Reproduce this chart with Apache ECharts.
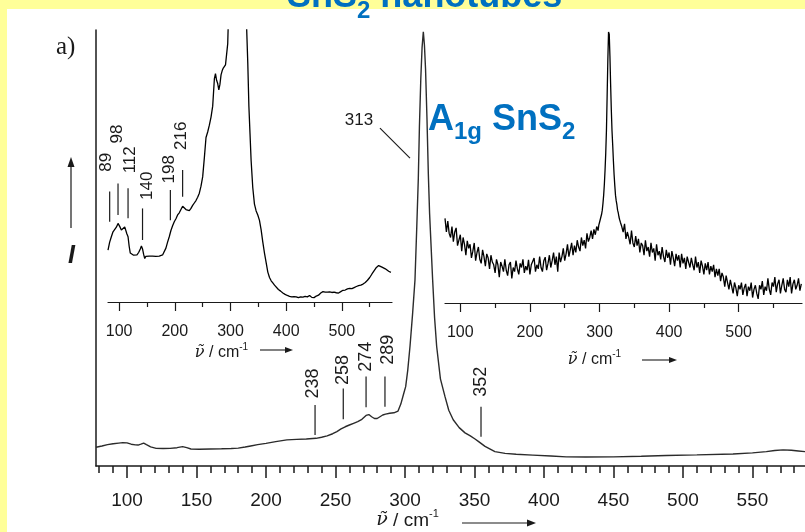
<!DOCTYPE html>
<html>
<head>
<meta charset="utf-8">
<script src="https://cdn.jsdelivr.net/npm/echarts@6.0.0/dist/echarts.min.js"></script>
<style>
html,body{margin:0;padding:0;background:#FFFF99;}
#chart{width:805px;height:532px;}
</style>
</head>
<body>
<div id="chart"></div>
<script>
// ---------- DATA ----------
// Main Raman spectrum (wavenumber cm-1, intensity a.u., peak = 100)
const mainSpectrum = [
  [77.7,4.3],[82,4.6],[86,4.9],[90,5.1],[94,5.25],[97,5.35],[100,5.3],[103,5.0],[106,4.85],[108,4.8],
  [110,5.0],[112,5.25],[114,4.9],[117,4.4],[121,4.05],[126,4.0],[131,4.05],[136,4.2],[140,4.45],[143,4.2],
  [146,3.9],[152,3.85],[160,3.9],[168,3.95],[175,4.0],[180,4.1],[185,4.35],[189,4.6],[194,4.9],[200,5.2],
  [207,5.6],[215,6.0],[222,6.1],[229,6.2],[236,6.35],[240,6.6],[244,6.9],[248,7.4],[251,7.9],[254,8.5],
  [257,9.0],[260,9.4],[263,9.8],[266,10.2],[269,10.7],[272,11.6],[274,11.8],[276,11.3],[278,10.9],[280,10.9],
  [282,11.3],[284,11.7],[286,11.9],[289,12.1],[292,12.2],[295,12.6],[297,14.2],[299,16.5],[300.5,18.2],[302,22],
  [303.6,27.4],[305.5,35],[307.2,42.7],[308.5,55],[309.6,66],[310.4,78],[311.4,89],[312.3,96],[313.2,99.6],[314.0,96.5],
  [314.8,91],[315.8,80],[316.8,67],[317.7,58],[319.9,42.7],[321.3,34],[322.8,27.4],[325.5,20],[328.8,15.9],[331.5,12.8],
  [334.7,10.6],[339,8.8],[343.2,7.6],[347,6.9],[350.4,6.2],[353,5.6],[357.6,4.5],[364.7,3.3],[372,2.9],[380,2.7],
  [392,2.5],[405,2.3],[416,2.1],[430,2.05],[450,2.1],[470,2.25],[488,2.4],[510,2.55],[536,2.75],[550,3.0],
  [560,3.3],[566,3.55],[572,3.7],[578,3.6],[583,3.45],[587.8,3.3]
];

// Left inset: zoomed-in spectrum (peak clipped)
const insetASpectrum = [
  [80,19.1],[83,22],[86,24],[89,25.8],[92,26.5],[95,27.5],[98,28.9],[101,27.8],[104,26.5],[107,27.2],
  [110,27.6],[112,27.2],[114,25],[116,24],[118,20.5],[120,18],[123,17.5],[126,17.2],[129,17.6],[132,17.3],
  [135,18.2],[138,19.5],[140,20.6],[142,19.5],[144,17.5],[146,16],[148,16.8],[151,16.2],[154,16.9],[157,16.4],
  [160,16.9],[163,16.3],[166,16.8],[169,16.4],[172,16.9],[175,16.6],[178,17.3],[181,18],[184,19.8],[187,22],
  [190,24],[193,26.3],[196,28],[199,29.5],[202,30.6],[205,32],[208,32.8],[211,34],[214,35.2],[217,34.5],
  [220,34],[223,34.6],[226,33.6],[229,34.4],[232,35.5],[235,36.4],[238,37.3],[241,38.5],[244,40],[247,42.6],
  [250,46],[253,53],[256,60.5],[259,62.5],[262,65],[265,68],[268,72],[271,82],[273,84],[275,81.5],
  [277,80.3],[279,78],[281,80],[283,83.5],[285,85],[287,86],[289,85.5],[291,87.2],[293,87.8],[295,95],
  [297,110],[300,160],[305,320],[310,700],[313,1000],[316,700],[320,350],[325,180],[328,110],[329,100.5],
  [331,88],[333,72],[335,62],[337,52],[340,42],[343,36],[346,33.5],[349,32],[352,30],[355,26.5],
  [358,22],[361,18],[364,14.5],[367,11],[370,9],[373,7.8],[376,7],[379,6.2],[382,5.6],[386,4.6],
  [390,4],[394,3.3],[398,2.8],[402,2.4],[406,2.1],[410,1.9],[414,2],[418,1.9],[422,1.6],[426,1.9],
  [430,1.8],[434,2.1],[438,1.9],[442,2.4],[446,1.7],[450,1.6],[454,2.2],[458,2.5],[462,3.3],[466,3.8],
  [470,3.6],[474,3.6],[478,3.7],[482,3.5],[486,3.6],[490,3.4],[494,3.3],[498,3.8],[502,4.3],[506,4.4],
  [510,4.8],[514,5],[518,4.9],[522,5.3],[526,5.7],[530,6],[534,6.2],[538,6.6],[542,7.2],[546,8],
  [550,9],[554,10.3],[558,11.5],[562,12.7],[566,13.4],[569,13.2],[572,12.8],[575,12.4],[578,12.2],[581,11.8],
  [584,11.3],[588,10.9]
];

// Right inset: noisy spectrum
const insetBSpectrum = [
  [78,31],[80,26],[82,30],[84,25.5],[86,24],[88,28],[90,22.5],[92,26],[94,27.5],[96,21],
  [98,23],[100,25],[102,19],[104,24],[106,21.5],[108,17.5],[110,22.8],[112,20],[114,21.5],[116,16.5],
  [118,19],[120,22],[122,15.5],[124,18.5],[126,20.5],[128,16],[130,14.5],[132,19.5],[134,17],[136,13.5],
  [138,18],[140,16.5],[142,12.5],[144,17.5],[146,15],[148,14],[150,11],[152,16],[154,14],[156,9.5],
  [158,15],[160,13.5],[162,11.5],[164,16],[166,12],[168,10],[170,14],[172,15],[174,9],[176,13],
  [178,11.5],[180,15.5],[182,12.5],[184,10.5],[186,14.5],[188,13],[190,16],[192,11],[194,13.5],[196,12],
  [198,15.8],[200,10.5],[202,14],[204,13.5],[206,16.5],[208,11.5],[210,14],[212,12.5],[214,17],[216,13],
  [218,11.5],[220,15.5],[222,16.8],[224,12],[226,14.5],[228,17.5],[230,13],[232,15.5],[234,18.5],[236,14],
  [238,17],[240,11.5],[242,18.5],[244,15],[246,17],[248,20],[250,15.5],[252,18],[254,21.5],[256,17],
  [258,19.5],[260,22],[262,17.5],[264,21],[266,18.5],[268,23],[270,20.5],[272,19],[274,24],[276,21],
  [278,23],[280,20],[282,25.5],[284,22.5],[286,24],[288,26.5],[290,23.5],[292,27],[294,25],[296,28],
  [298,26.5],[299,28.5],[300,29.5],[301,30],[302,31.5],[303,32.5],[304,34],[305,36.5],[306,39.5],[307,43.5],
  [308,48.7],[309,55],[310,63.3],[311,76],[312,89],[313,99.3],[314,98.5],[315,90.5],[316,80],[317,70.7],
  [318,63],[319,57.8],[320,52],[321,47],[322,43],[323,39.5],[324,37.5],[325,36],[326,34],[327,33],
  [328,31.5],[329,30.5],[330,29.6],[332,28],[334,26],[336,29],[338,23.5],[340,26],[342,24],[344,21.5],
  [346,26.5],[348,22],[350,20.5],[352,24.5],[354,21],[356,23.5],[358,18.5],[360,22],[362,21],[364,17.5],
  [366,23],[368,19],[370,20.5],[372,17],[374,22],[376,18.5],[378,20],[380,15.5],[382,21.5],[384,17.5],
  [386,19],[388,16],[390,20.5],[392,17],[394,15],[396,19.5],[398,16.5],[400,18.5],[402,14],[404,19],
  [406,16.5],[408,13.5],[410,18],[412,15.5],[414,17.5],[416,13],[418,18],[420,14.5],[422,16.5],[424,12.5],
  [426,17],[428,15],[430,13],[432,16.5],[434,14],[436,12],[438,17],[440,13],[442,15],[444,11],
  [446,15.5],[448,13.5],[450,10.5],[452,14.5],[454,12],[456,15],[458,10.5],[460,13.5],[462,11.5],[464,14],
  [466,9.5],[468,12.5],[470,10],[472,12.5],[474,8],[476,11],[478,9.5],[480,6],[482,10],[484,7.5],
  [486,5],[488,8.5],[490,6],[492,3.5],[494,7.5],[496,5.5],[498,2.5],[500,6.5],[502,5],[504,7.5],
  [506,3],[508,5.5],[510,7],[512,2.5],[514,6],[516,4.5],[518,7.5],[520,2],[522,5],[524,6.5],
  [526,3.5],[528,1.5],[530,6.5],[532,5],[534,8],[536,3],[538,6],[540,4.5],[542,9],[544,5],
  [546,3],[548,7.5],[550,6],[552,9.5],[554,4],[556,7],[558,8.5],[560,3.5],[562,6.5],[564,9],
  [566,5],[568,4],[570,8.5],[572,6],[574,9.5],[576,3.5],[578,7],[580,8.5],[582,5],[584,6.5],
  [586,9],[588,4.5],[590,7]
];

// Tick values
const mainMajorTicks = [100,150,200,250,300,350,400,450,500,550];
const mainMinorTicks = [80,90,100,110,120,130,140,150,160,170,180,190,200,210,220,230,240,250,260,270,280,290,
  300,310,320,330,340,350,360,370,380,390,400,410,420,430,440,450,460,470,480,490,500,510,520,530,540,550,560,570,580];
const insetMajorTicks = [100,200,300,400,500];
const insetMinorTicks = [150,250,350,450,550];

// Peak annotations: [line x, line bottom, line top, label x, label bottom, text]
const mainPeakMarks = [
  [235.3, 7.1, 14.0, 234.0, 15.5, '238'],
  [255.6, 10.7, 17.8, 255.6, 18.6, '258'],
  [272.0, 13.5, 20.5, 272.0, 21.6, '274'],
  [285.6, 13.6, 20.5, 288.0, 23.2, '289'],
  [354.7, 6.7, 13.6, 355.0, 15.9, '352']
];
const insetAPeakMarks = [
  [83, 29.5, 40.6, 77.3, 47.9, '89'],
  [98, 32.0, 43.6, 96.4, 58.3, '98'],
  [116, 30.8, 41.8, 119.2, 47.3, '112'],
  [142, 22.8, 34.4, 150.4, 37.5, '140'],
  [192, 30.1, 41.2, 190.0, 43.6, '198'],
  [214, 38.7, 48.5, 212.0, 55.9, '216']
];
// Leader for main peak: [x1, y1, x2, y2, label x, label y, text]
const mainPeakLeader = [[282.0, 77.5, 303.6, 70.6, 266.9, 79.4, '313']];

// ---------- CHART ----------
const SANS = '"Liberation Sans", Arial, sans-serif';
const INK = '#1a1a1a';
const chart = echarts.init(document.getElementById('chart'), null, {renderer: 'canvas'});

function markRenderer(marks, fontSize) {
  return function (params, api) {
    const m = marks[params.dataIndex];
    const p1 = api.coord([m[0], m[1]]);
    const p2 = api.coord([m[0], m[2]]);
    const pt = api.coord([m[3], m[4]]);
    return {
      type: 'group',
      children: [
        {type: 'line', shape: {x1: p1[0], y1: p1[1], x2: p2[0], y2: p2[1]},
         style: {stroke: INK, lineWidth: 1.2}},
        {type: 'text', x: pt[0], y: pt[1], rotation: Math.PI / 2,
         style: {text: m[5], fontSize: fontSize, fontFamily: SANS, fill: INK,
                 align: 'left', verticalAlign: 'middle'}}
      ]
    };
  };
}
function leaderRenderer(params, api) {
  const m = mainPeakLeader[params.dataIndex];
  const p1 = api.coord([m[0], m[1]]);
  const p2 = api.coord([m[2], m[3]]);
  const pt = api.coord([m[4], m[5]]);
  return {
    type: 'group',
    children: [
      {type: 'line', shape: {x1: p1[0], y1: p1[1], x2: p2[0], y2: p2[1]},
       style: {stroke: INK, lineWidth: 1.2}},
      {type: 'text', x: pt[0], y: pt[1],
       style: {text: m[6], fontSize: 17, fontFamily: SANS, fill: INK,
               align: 'center', verticalAlign: 'middle'}}
    ]
  };
}

function axisName(size, supSize) {
  return {
    nu: {fontFamily: '"DejaVu Serif", serif', fontStyle: 'italic', fontSize: size, lineHeight: size + 6, color: INK},
    t: {fontFamily: SANS, fontSize: size, lineHeight: size + 6, color: INK},
    sup: {fontFamily: SANS, fontSize: supSize, lineHeight: supSize + 2, verticalAlign: 'top', color: INK}
  };
}
const NAME = '{nu|ν̃}{t| / cm}{sup|-1}';

function xPair(gridIndex, min, max, major, minor, majLen, minLen, labelSize, labelMargin, lineWidth, nameSize, supSize, nameGap, namePadRight) {
  return [
    {
      type: 'value', gridIndex: gridIndex, position: 'bottom', min: min, max: max,
      axisLine: {show: true, onZero: false, lineStyle: {color: INK, width: lineWidth}},
      axisTick: {show: true, inside: false, length: majLen, customValues: major, lineStyle: {color: INK, width: lineWidth}},
      axisLabel: {show: true, customValues: major, fontSize: labelSize, fontFamily: SANS, color: INK, margin: labelMargin},
      splitLine: {show: false},
      name: NAME, nameLocation: 'middle', nameGap: nameGap, nameMoveOverlap: false,
      nameTextStyle: {padding: [0, namePadRight, 0, 0], rich: axisName(nameSize, supSize)}
    },
    {
      type: 'value', gridIndex: gridIndex, position: 'bottom', min: min, max: max,
      axisLine: {show: false, onZero: false},
      axisTick: {show: true, inside: false, length: minLen, customValues: minor, lineStyle: {color: INK, width: lineWidth}},
      axisLabel: {show: false},
      splitLine: {show: false}
    }
  ];
}

const xAxes = []
  .concat(xPair(0, 77.7, 587.8, mainMajorTicks, mainMinorTicks, 12, 7, 19, 25, 1.5, 19, 11, 42, 86))
  .concat(xPair(1, 80, 590, insetMajorTicks, insetMinorTicks, 9, 5, 16, 22, 1.2, 16, 10, 40, 57))
  .concat(xPair(2, 78, 591, insetMajorTicks, insetMinorTicks, 9, 5, 16, 22, 1.2, 16, 10, 46, 58));

const option = {
  animation: false,
  backgroundColor: '#FFFF99',
  grid: [
    {left: 96, right: 0, top: 30, bottom: 66, outerBoundsMode: 'none', containLabel: false},
    {left: 108, right: 413, top: 30, bottom: 230, outerBoundsMode: 'none', containLabel: false},
    {left: 445, right: 3, top: 30, bottom: 229, outerBoundsMode: 'none', containLabel: false}
  ],
  xAxis: xAxes,
  yAxis: [
    {type: 'value', gridIndex: 0, min: 0, max: 100,
     axisLine: {show: true, onZero: false, lineStyle: {color: INK, width: 1.5}},
     axisTick: {show: false}, axisLabel: {show: false}, splitLine: {show: false}},
    {type: 'value', gridIndex: 1, min: 0, max: 100, show: false, splitLine: {show: false}},
    {type: 'value', gridIndex: 2, min: 0, max: 100, show: false, splitLine: {show: false}}
  ],
  series: [
    {type: 'line', xAxisIndex: 0, yAxisIndex: 0, data: mainSpectrum, showSymbol: false,
     lineStyle: {color: '#2b2b2b', width: 1.4}, clip: true, z: 3},
    {type: 'line', xAxisIndex: 2, yAxisIndex: 1, data: insetASpectrum, showSymbol: false,
     lineStyle: {color: '#000', width: 1.3}, clip: true, z: 3},
    {type: 'line', xAxisIndex: 4, yAxisIndex: 2, data: insetBSpectrum, showSymbol: false,
     lineStyle: {color: '#000', width: 1.3}, clip: true, z: 3},
    {type: 'custom', xAxisIndex: 0, yAxisIndex: 0, clip: false,
     data: mainPeakMarks.map(m => [m[0], m[2]]), renderItem: markRenderer(mainPeakMarks, 18), z: 4},
    {type: 'custom', xAxisIndex: 2, yAxisIndex: 1, clip: false,
     data: insetAPeakMarks.map(m => [m[0], m[2]]), renderItem: markRenderer(insetAPeakMarks, 17), z: 4},
    {type: 'custom', xAxisIndex: 0, yAxisIndex: 0, clip: false,
     data: mainPeakLeader.map(m => [m[0], m[1]]), renderItem: leaderRenderer, z: 4}
  ],
  graphic: [
    {type: 'rect', z: -100, shape: {x: 7, y: 9, width: 798, height: 523}, style: {fill: '#ffffff'}},
    // panel tag
    {type: 'text', x: 56, y: 35, z: 10,
     style: {text: 'a)', fontSize: 25, fontFamily: '"Liberation Serif", serif', fill: INK}},
    // y-axis: arrow + italic I
    {type: 'line', z: 10, shape: {x1: 71, y1: 228, x2: 71, y2: 166}, style: {stroke: INK, lineWidth: 1.2}},
    {type: 'polygon', z: 10, shape: {points: [[71, 157], [67.5, 167], [74.5, 167]]}, style: {fill: INK}},
    {type: 'text', x: 68, y: 244, z: 10,
     style: {text: 'I', fontSize: 25, fontStyle: 'italic', fontWeight: 'bold', fontFamily: SANS, fill: INK}},
    // x-axis arrows
    {type: 'line', z: 10, shape: {x1: 462, y1: 523, x2: 528, y2: 523}, style: {stroke: INK, lineWidth: 1.2}},
    {type: 'polygon', z: 10, shape: {points: [[536, 523], [527, 519.5], [527, 526.5]]}, style: {fill: INK}},
    {type: 'line', z: 10, shape: {x1: 260, y1: 350, x2: 286, y2: 350}, style: {stroke: INK, lineWidth: 1.1}},
    {type: 'polygon', z: 10, shape: {points: [[293, 350], [285, 347], [285, 353]]}, style: {fill: INK}},
    {type: 'line', z: 10, shape: {x1: 642, y1: 360, x2: 669, y2: 360}, style: {stroke: INK, lineWidth: 1.1}},
    {type: 'polygon', z: 10, shape: {points: [[677, 360], [669, 357], [669, 363]]}, style: {fill: INK}},
    // blue headline texts
    {type: 'text', x: 287, y: -21, z: 10,
     style: {
       text: '{b|SnS}{s|2}{b| nanotubes}',
       rich: {
         b: {fontSize: 36, fontWeight: 'bold', fontFamily: SANS, fill: '#0070C0', color: '#0070C0', lineHeight: 44, verticalAlign: 'top'},
         s: {fontSize: 24, fontWeight: 'bold', fontFamily: SANS, fill: '#0070C0', color: '#0070C0', lineHeight: 18, verticalAlign: 'bottom'}
       }
     }},
    {type: 'text', x: 428, y: 102, z: 10,
     style: {
       text: '{b|A}{s|1g}{b| SnS}{s|2}',
       rich: {
         b: {fontSize: 36, fontWeight: 'bold', fontFamily: SANS, fill: '#0070C0', color: '#0070C0', lineHeight: 42, verticalAlign: 'top'},
         s: {fontSize: 24, fontWeight: 'bold', fontFamily: SANS, fill: '#0070C0', color: '#0070C0', lineHeight: 22, verticalAlign: 'bottom'}
       }
     }}
  ]
};
chart.setOption(option);
</script>
</body>
</html>
